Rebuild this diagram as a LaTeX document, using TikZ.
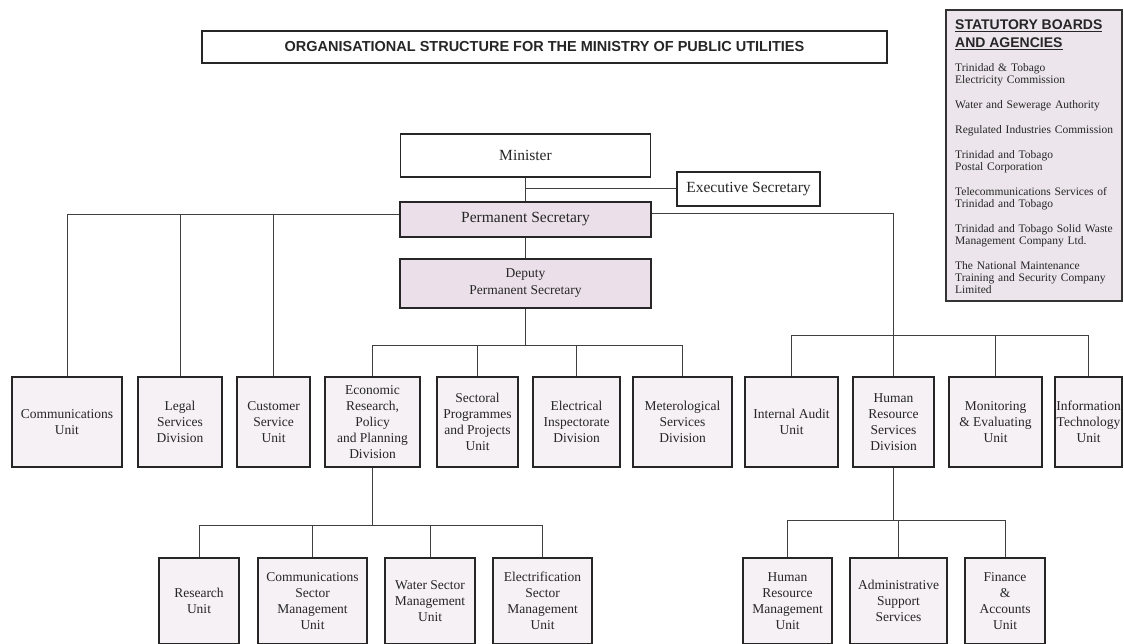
\documentclass[tikz,border=0pt]{standalone}
\usepackage{fontspec}
\setmainfont{Liberation Serif}
\setsansfont{Liberation Sans}
\usepackage{xcolor}
\usetikzlibrary{positioning}
\definecolor{unitfill}{RGB}{245,241,244}
\definecolor{psfill}{RGB}{235,224,233}
\definecolor{boardfill}{RGB}{236,229,235}
\tikzset{
  obox/.style={
    draw=black!85,
    fill=unitfill,
    line width=1.8pt,
    align=center,
    inner xsep=1pt,
    inner ysep=1pt,
    text=black!85,
    font=\fontsize{13.5}{16}\selectfont
  },
  otop/.style={obox,fill=white,font=\fontsize{15.5}{18}\selectfont},
  opink/.style={obox,fill=psfill},
  otitle/.style={obox,fill=white,line width=1.6pt,font=\sffamily\bfseries\fontsize{14.5}{17}\selectfont},
  oboards/.style={draw=black!80,fill=boardfill,line width=1.6pt},
  olist/.style={inner sep=0pt,align=left,text width=165pt,text=black!85,font=\fontsize{11.5}{12}\selectfont},
  olink/.style={draw=black!75,line width=1pt}
}

\begin{document}
\begin{tikzpicture}[x=1pt,y=-1pt]
  \useasboundingbox (0,0) rectangle (1124,644);
  % heading and statutory boards
  \node[otitle,minimum width=685pt,minimum height=32pt] (title) at (544.5,47) {ORGANISATIONAL STRUCTURE FOR THE MINISTRY OF PUBLIC UTILITIES};
  \node[oboards,minimum width=176pt,minimum height=291pt] (boards) at (1034,155.5) {};
  \node[olist,anchor=north west] (boardlist) at (955,19.5) {%
    {\sffamily\bfseries\fontsize{14}{18}\selectfont\underline{STATUTORY BOARDS}\\\underline{AND AGENCIES}\par}
    \vspace{12pt}
    Trinidad \& Tobago\\Electricity Commission\\[13pt]
    Water and Sewerage Authority\\[13pt]
    Regulated Industries Commission\\[13pt]
    Trinidad and Tobago\\Postal Corporation\\[13pt]
    Telecommunications Services of\\Trinidad and Tobago\\[13pt]
    Trinidad and Tobago Solid Waste\\Management Company Ltd.\\[13pt]
    The National Maintenance\\Training and Security Company\\Limited};
  % minister and secretaries
  \node[otop,minimum width=250pt,minimum height=43pt] (minister) at (525.5,155.5) {Minister};
  \node[otop,minimum width=143pt,minimum height=34pt] (execsec) at (748.5,189) {Executive Secretary};
  \node[opink,minimum width=251pt,minimum height=35pt,font=\fontsize{15.5}{18}\selectfont] (permsec) at (525.5,219.5) {Permanent Secretary};
  \node[opink,minimum width=251pt,minimum height=49pt,font=\fontsize{13.5}{17}\selectfont] (deputy) at (525.5,283.5) {Deputy\\Permanent Secretary};
  % units and divisions
  \node[obox,minimum width=110pt,minimum height=90pt] (comm) at (67,422) {Communications\\Unit};
  \node[obox,minimum width=84pt,minimum height=90pt] (legal) at (180,422) {Legal\\Services\\Division};
  \node[obox,minimum width=73pt,minimum height=90pt] (cust) at (273.5,422) {Customer\\Service\\Unit};
  \node[obox,minimum width=95pt,minimum height=90pt] (econ) at (372.5,422) {Economic\\Research,\\Policy\\and Planning\\Division};
  \node[obox,minimum width=81pt,minimum height=90pt] (sect) at (477.5,422) {Sectoral\\Programmes\\and Projects\\Unit};
  \node[obox,minimum width=87pt,minimum height=90pt] (elec) at (576.5,422) {Electrical\\Inspectorate\\Division};
  \node[obox,minimum width=99pt,minimum height=90pt] (meteo) at (682.5,422) {Meterological\\Services\\Division};
  \node[obox,minimum width=93pt,minimum height=90pt] (audit) at (791.5,422) {Internal Audit\\Unit};
  \node[obox,minimum width=81pt,minimum height=90pt] (hrsd) at (893.5,422) {Human\\Resource\\Services\\Division};
  \node[obox,minimum width=93pt,minimum height=90pt] (monit) at (995.5,422) {Monitoring\\\& Evaluating\\Unit};
  \node[obox,minimum width=67pt,minimum height=90pt] (infotech) at (1088.5,422) {Information\\Technology\\Unit};
  % sections under economic research and human resource
  \node[obox,minimum width=80pt,minimum height=86pt] (research) at (199,601) {Research\\Unit};
  \node[obox,minimum width=109pt,minimum height=86pt] (commsec) at (312.5,601) {Communications\\Sector\\Management\\Unit};
  \node[obox,minimum width=90pt,minimum height=86pt] (water) at (430,601) {Water Sector\\Management\\Unit};
  \node[obox,minimum width=99pt,minimum height=86pt] (electri) at (542.5,601) {Electrification\\Sector\\Management\\Unit};
  \node[obox,minimum width=89pt,minimum height=86pt] (hrm) at (787.5,601) {Human\\Resource\\Management\\Unit};
  \node[obox,minimum width=97pt,minimum height=86pt] (admin) at (898.5,601) {Administrative\\Support\\Services};
  \node[obox,minimum width=80pt,minimum height=86pt] (finance) at (1005,601) {Finance\\\&\\Accounts\\Unit};
  % junctions
  \coordinate (psl) at ([yshift=5pt]permsec.west);
  \coordinate (psr) at ([yshift=6pt]permsec.east);
  \coordinate (midbus) at (525.5,345);
  \coordinate (rightbus) at (893.5,335);
  \coordinate (econbus) at (372.5,525);
  \coordinate (hrbus) at (893.5,520);
  % connectors
  \draw[olink] (minister) -- (permsec);
  \draw[olink] (execsec.west) -- (execsec.west -| minister.south);
  \draw[olink] (psl) -| (comm.north);
  \draw[olink] (psl -| legal.north) -- (legal.north);
  \draw[olink] (psl -| cust.north) -- (cust.north);
  \draw[olink] (psr) -| (hrsd.north);
  \draw[olink] (permsec) -- (deputy);
  \draw[olink] (deputy) -- (midbus);
  \draw[olink] (econ.north |- midbus) -- (meteo.north |- midbus);
  \draw[olink] (econ.north |- midbus) -- (econ.north);
  \draw[olink] (sect.north |- midbus) -- (sect.north);
  \draw[olink] (elec.north |- midbus) -- (elec.north);
  \draw[olink] (meteo.north |- midbus) -- (meteo.north);
  \draw[olink] (audit.north |- rightbus) -- (infotech.north |- rightbus);
  \draw[olink] (audit.north |- rightbus) -- (audit.north);
  \draw[olink] (monit.north |- rightbus) -- (monit.north);
  \draw[olink] (infotech.north |- rightbus) -- (infotech.north);
  \draw[olink] (econ) -- (econbus);
  \draw[olink] (research.north |- econbus) -- (electri.north |- econbus);
  \draw[olink] (research.north |- econbus) -- (research.north);
  \draw[olink] (commsec.north |- econbus) -- (commsec.north);
  \draw[olink] (water.north |- econbus) -- (water.north);
  \draw[olink] (electri.north |- econbus) -- (electri.north);
  \draw[olink] (hrsd) -- (hrbus);
  \draw[olink] (hrm.north |- hrbus) -- (finance.north |- hrbus);
  \draw[olink] (hrm.north |- hrbus) -- (hrm.north);
  \draw[olink] (admin.north |- hrbus) -- (admin.north);
  \draw[olink] (finance.north |- hrbus) -- (finance.north);
\end{tikzpicture}
\end{document}
